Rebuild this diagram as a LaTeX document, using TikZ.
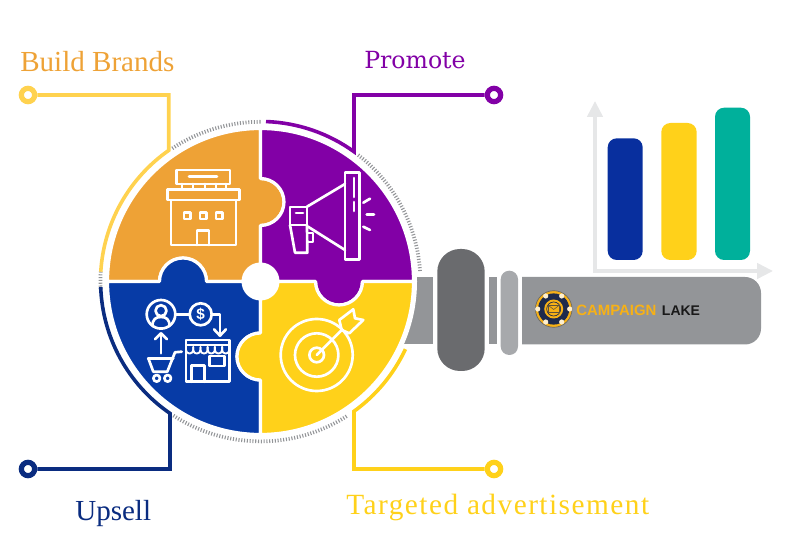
\documentclass[tikz,border=0pt]{standalone}
\usepackage{fontspec}
\setmainfont{Liberation Serif}
\setsansfont{Liberation Sans}
\newfontfamily\promotefont{DejaVu Serif}
\usepackage{xcolor}
\usetikzlibrary{arrows.meta}
\definecolor{pieceOrange}{HTML}{EEA236}
\definecolor{piecePurple}{HTML}{8200A6}
\definecolor{pieceBlue}{HTML}{073BA6}
\definecolor{pieceYellow}{HTML}{FFD11A}
\definecolor{lineBrands}{HTML}{FFD24F}
\definecolor{lineUpsell}{HTML}{0A2C80}
\definecolor{handleGrey}{HTML}{939598}
\definecolor{handleDark}{HTML}{6A6B6E}
\definecolor{handleLight}{HTML}{A7A9AC}
\definecolor{axisGrey}{HTML}{E6E7E8}
\definecolor{barNavy}{HTML}{082F9E}
\definecolor{barTeal}{HTML}{00B09B}
\definecolor{logoGold}{HTML}{F7B116}
\definecolor{logoNavy}{HTML}{1D2A4C}
\tikzset{
	labeltext/.style={anchor=base west,inner sep=0pt,font=\fontsize{21.8}{26}\selectfont},
	enddot/.style={circle,draw=#1,fill=white,line width=3.9pt,minimum size=10pt,inner sep=0pt},
	leadline/.style={draw=#1,line width=2.7pt,miter limit=20},
	ticks/.style={draw=handleGrey,line width=2.8pt,dash pattern={on 0.8pt off 1.3pt}},
	piece/.style={fill=#1,draw=white,line width=2.4pt,line join=round},
	icon/.style={draw=white,line width=2pt,line cap=round,line join=round},
	bar/.style={fill=#1,rounded corners=6.8pt},
}

\begin{document}
\begin{tikzpicture}[x=0.75pt,y=0.75pt,yscale=-1,xscale=1]
	\useasboundingbox (0,0) rectangle (800,559);

	%Shape: Handle neck
	\fill [handleGrey] (395,277) rectangle (433,344.5);
	\fill [white] (260.5,281.5) circle (156.5);
	%Shape: Handle parts
	\fill [handleDark,rounded corners=17pt] (437.3,249) rectangle (484.7,371);
	\fill [handleGrey] (488.7,277) rectangle (496.7,344.5);
	\fill [handleLight,rounded corners=6.4pt] (500.7,270.7) rectangle (518,355);
	\fill [handleGrey] (522,277) -- (745,277) arc (-90:0:16) -- (761,328.5) arc (0:90:16) -- (522,344.5) -- cycle;

	%Shape: Ring ticks
	\draw [ticks] (172.3,148.4) arc (-123.5:-90:160);
	\draw [ticks] (358.2,155.0) arc (-52.3:-3.5:160);
	\draw [ticks] (100.7,271.5) arc (-176.4:-183:160);
	\draw [ticks] (173.4,415.6) arc (123:57:160);

	% Dots and their lead lines
	\coordinate (endBrands) at (168.7,150.4);
	\coordinate (endPromote) at (354,151.7);
	\coordinate (endUpsell) at (170,413.4);
	\coordinate (endTargeted) at (354,411.3);
	\draw (28,95) node (dotBrands) [enddot=lineBrands] {};
	\draw (494,95) node (dotPromote) [enddot=piecePurple] {};
	\draw (28,469) node (dotUpsell) [enddot=lineUpsell] {};
	\draw (494,469) node (dotTargeted) [enddot=pieceYellow] {};
	\draw [leadline=lineBrands] (dotBrands) -| (endBrands) arc (-125:-176.5:160);
	\draw [leadline=piecePurple] (dotPromote) -| (endPromote) arc (-54.2:-88:160);
	\draw [leadline=lineUpsell] (dotUpsell) -| (endUpsell) arc (124.5:178:160);
	\draw [leadline=pieceYellow] (dotTargeted) -| (endTargeted) arc (54.2:25:160);

	%Shape: Puzzle pieces
	\draw [piece=pieceOrange] (260.5,281.5) -- (260.5,225.5) arc (90:-90:23.5) -- (260.5,128.5) arc (-90:-180:153) -- (159.5,281.5) arc (-180:0:23.5) -- cycle;
	\draw [piece=piecePurple] (260.5,281.5) -- (260.5,225.5) arc (90:-90:23.5) -- (260.5,128.5) arc (-90:0:153) -- (362.5,281.5) arc (0:180:23.5) -- cycle;
	\draw [piece=pieceBlue] (260.5,281.5) -- (206.5,281.5) arc (0:-180:23.5) -- (107.5,281.5) arc (180:90:153) -- (260.5,380) arc (90:270:23.5) -- cycle;
	\draw [piece=pieceYellow] (260.5,281.5) -- (315.5,281.5) arc (180:0:23.5) -- (413.5,281.5) arc (0:90:153) -- (260.5,380) arc (90:270:23.5) -- cycle;
	%Shape: Circle
	\fill [white] (260.5,281.5) circle (19);

	%Icon: store
	\draw [icon] (176.7,170) rectangle (230,184);
	\draw [icon] (189,176.8) -- (217,176.8);
	\foreach \postx in {182,193,205,216,226} {
		\draw [icon] (\postx,184) -- (\postx,189.3);
	}
	\draw [icon] (167.7,189.3) rectangle (239.3,200);
	\draw [icon] (171,200) rectangle (236,245);
	\foreach \winx in {184,200,216} {
		\draw [icon] (\winx,212.5) rectangle (\winx+6.5,219);
	}
	\draw [icon] (197,245) -- (197,230.7) -- (209,230.7) -- (209,245);

	%Icon: megaphone
	\draw [icon] (345,172.7) rectangle (359.3,259.3);
	\draw [icon] (354,178) -- (354,197);
	\draw [icon] (354,202) -- (354,211);
	\draw [icon] (345,184) -- (307,206.7);
	\draw [icon] (345,250) -- (308,226.7);
	\draw [icon] (290,207) rectangle (307,225);
	\draw [icon] (296,213) -- (303,213);
	\draw [icon] (290,225) -- (295,252.7) -- (307.3,252.7) -- (307,225);
	\draw [icon,line width=1.4pt] (308,233) -- (312.7,233) -- (312.7,241.7) -- (308,241.7);
	\draw [icon] (363.3,202.7) -- (370,198.7);
	\draw [icon] (366.7,214.3) -- (374,214.3);
	\draw [icon] (363.3,226.7) -- (370,230);

	%Icon: customer, dollar, cart and shop
	\draw [icon] (161,314.3) circle (14.3);
	\draw [icon] (161,310.7) circle (5.5);
	\draw [icon] (152.5,326) .. controls (152.5,319) and (156,317) .. (161,317) .. controls (166,317) and (169.5,319) .. (169.5,326);
	\draw [icon] (176,314.3) -- (189.3,314.3);
	\draw [icon] (200.7,314.3) circle (11);
	\draw (200.7,314.3) node (iconDollar) [inner sep=0pt,text=white,font=\fontsize{11.5}{12}\sffamily\bfseries\selectfont] {\$};
	\draw [icon] (211.7,314.3) -- (220,314.3) -- (220,335);
	\draw [icon] (214,329.3) -- (220,335.7) -- (226,329.3);
	\draw [icon] (161,353.3) -- (161,333.3);
	\draw [icon] (155,339.3) -- (161,333.3) -- (167,339.3);
	\draw [icon] (148.3,358.3) -- (173.3,358.3);
	\draw [icon] (148.3,358.3) -- (153.3,371.7) -- (167.3,371.7) -- (175,352.3) -- (181.7,351.7);
	\draw [icon] (156.7,378.3) circle (3.3);
	\draw [icon] (167.7,378.3) circle (3.3);
	\draw [icon] (186,340) rectangle (229.3,381.7);
	\foreach \i in {0,...,5} {
		\draw [icon,line width=1.4pt] (186+\i*7.22,347) -- (186+\i*7.22,350) arc (180:0:3.61) -- (186+\i*7.22+7.22,347);
	}
	\draw [icon,line width=1.4pt] (186,345) -- (229.3,345);
	\draw [icon] (209.3,356) rectangle (224.3,366);
	\draw [icon] (191.7,381.7) -- (191.7,365.7) -- (204.3,365.7) -- (204.3,381.7);

	%Icon: target
	\draw [icon] (316.7,355) circle (36);
	\draw [icon] (316.7,355) circle (21.7);
	\draw [icon] (316.7,355) circle (7.3);
	\draw [icon] (316.7,355) -- (341.7,330);
	\draw [icon] (341.7,330) -- (339.3,320) -- (353.3,309.3) -- (355,318.3) -- (363.3,320) -- (349.3,333.3) -- cycle;

	%Shape: Chart axes and bars
	\coordinate (axisTop) at (595,101);
	\coordinate (axisOrigin) at (595,271);
	\coordinate (axisRight) at (773,271);
	\draw [draw=axisGrey,fill=none,line width=2.7pt,{Triangle[length=12pt,width=11.5pt,fill=axisGrey]}-{Triangle[length=12pt,width=11.5pt,fill=axisGrey]}] (axisTop) -- (axisOrigin) -- (axisRight);
	\fill [bar=barNavy] (607.7,138.3) rectangle (642.7,260);
	\fill [bar=pieceYellow] (661.3,123) rectangle (696.7,260);
	\fill [bar=barTeal] (715,107.7) rectangle (750,260);

	%Shape: Logo badge
	\draw [fill=logoGold,draw=black!60,line width=0.5pt] (553.7,309) circle (18.3);
	\fill [logoNavy] (553.7,309) circle (15.6);
	\foreach \lampx/\lampy in {-8/-13,8/-13,-16/0,16/0,-8/13,8/13} {
		\fill [white!80!logoGold] (553.7+\lampx,309+\lampy) circle (2.6);
	}
	\fill [logoGold] (553.7,309) circle (9.5);
	\draw [logoNavy,line width=0.5pt] (553.7,309) circle (7);
	\draw [logoNavy!70!logoGold,line width=0.4pt] (548.5,305.5) rectangle (558.9,312.5);
	\draw [logoNavy!70!logoGold,line width=0.4pt] (548.5,305.5) -- (553.7,309.5) -- (558.9,305.5);

	% Text Node
	\draw (576,315.3) node (lblCampaign) [anchor=base west,inner sep=0pt,text=logoGold,font=\fontsize{11.2}{13}\sffamily\bfseries\selectfont] {CAMPAIGN};
	% Text Node
	\draw (661.7,315.3) node (lblLake) [anchor=base west,inner sep=0pt,text=black!90,font=\fontsize{10.5}{13}\sffamily\bfseries\selectfont] {LAKE};
	% Text Node
	\draw (20,71.7) node (lblBrands) [labeltext,text=pieceOrange] {Build Brands};
	% Text Node
	\draw (364,68.3) node (lblPromote) [labeltext,text=piecePurple,font=\promotefont\fontsize{17.7}{22}\selectfont] {Promote};
	% Text Node
	\draw (75,520) node (lblUpsell) [labeltext,text=lineUpsell] {Upsell};
	% Text Node
	\draw (346,514.3) node (lblTargeted) [labeltext,text=pieceYellow,font=\fontsize{22}{26}\selectfont\addfontfeature{LetterSpace=5}] {Targeted advertisement};

\end{tikzpicture}
\end{document}
